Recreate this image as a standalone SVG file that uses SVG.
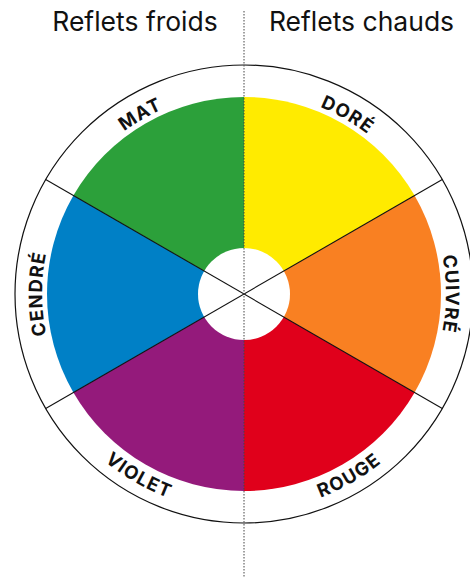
<svg xmlns="http://www.w3.org/2000/svg" width="470" height="577" viewBox="0 0 470 577">
<style>
.title{font-family:Inter,"Open Sans","Liberation Sans",sans-serif;font-size:26.5px;fill:#111;text-anchor:middle}
.lbl{font-family:Inter,"Open Sans","Liberation Sans",sans-serif;font-size:18.5px;font-weight:700;fill:#111;letter-spacing:1.2px}
.div{stroke:#111;stroke-width:1.1;fill:none}
</style>
<defs>
<path id="pMat" d="M45.1,258.9 A202,202 0 0 1 313.1,104.2"/>
<path id="pDore" d="M174.9,104.2 A202,202 0 0 1 442.9,258.9"/>
<path id="pCuivre" d="M373.8,139.3 A202,202 0 0 1 373.8,448.7"/>
<path id="pCendre" d="M114.2,448.7 A202,202 0 0 1 114.2,139.3"/>
<path id="pViolet" d="M29.3,331.9 A219,219 0 0 0 318.6,498.9"/>
<path id="pRouge" d="M169.4,498.9 A219,219 0 0 0 458.7,331.9"/>
</defs>
<rect width="470" height="577" fill="#fff"/>
<g id="titles">
<text class="title" x="135" y="31">Reflets froids</text>
<text class="title" x="361.5" y="31">Reflets chauds</text>
</g>
<circle id="outer" cx="244" cy="294" r="229" fill="none" stroke="#111" stroke-width="1.2"/>
<g id="dore"><path d="M244,294 L244,97 A197,197 0 0 1 414.6,195.5 Z" fill="#ffeb00"/>
<text class="lbl"><textPath href="#pDore" startOffset="50%" text-anchor="middle">DORÉ</textPath></text></g>
<g id="cuivre"><path d="M244,294 L414.6,195.5 A197,197 0 0 1 414.6,392.5 Z" fill="#f98022"/>
<text class="lbl"><textPath href="#pCuivre" startOffset="50%" text-anchor="middle">CUIVRÉ</textPath></text></g>
<g id="rouge"><path d="M244,294 L414.6,392.5 A197,197 0 0 1 244,491 Z" fill="#e0001b"/>
<text class="lbl"><textPath href="#pRouge" startOffset="50%" text-anchor="middle">ROUGE</textPath></text></g>
<g id="violet"><path d="M244,294 L244,491 A197,197 0 0 1 73.4,392.5 Z" fill="#941a7b"/>
<text class="lbl"><textPath href="#pViolet" startOffset="50%" text-anchor="middle">VIOLET</textPath></text></g>
<g id="cendre"><path d="M244,294 L73.4,392.5 A197,197 0 0 1 73.4,195.5 Z" fill="#0080c6"/>
<text class="lbl"><textPath href="#pCendre" startOffset="50%" text-anchor="middle">CENDRÉ</textPath></text></g>
<g id="mat"><path d="M244,294 L73.4,195.5 A197,197 0 0 1 244,97 Z" fill="#2ca03a"/>
<text class="lbl"><textPath href="#pMat" startOffset="50%" text-anchor="middle">MAT</textPath></text></g>
<circle id="hole" cx="244" cy="294" r="46" fill="#fff"/>
<g id="connectors">
<line class="div" x1="45.7" y1="179.5" x2="442.3" y2="408.5"/>
<line class="div" x1="45.7" y1="408.5" x2="442.3" y2="179.5"/>
<line x1="244" y1="11" x2="244" y2="577" stroke="#444" stroke-width="1" stroke-dasharray="1.5 1.5"/>
</g>
</svg>
